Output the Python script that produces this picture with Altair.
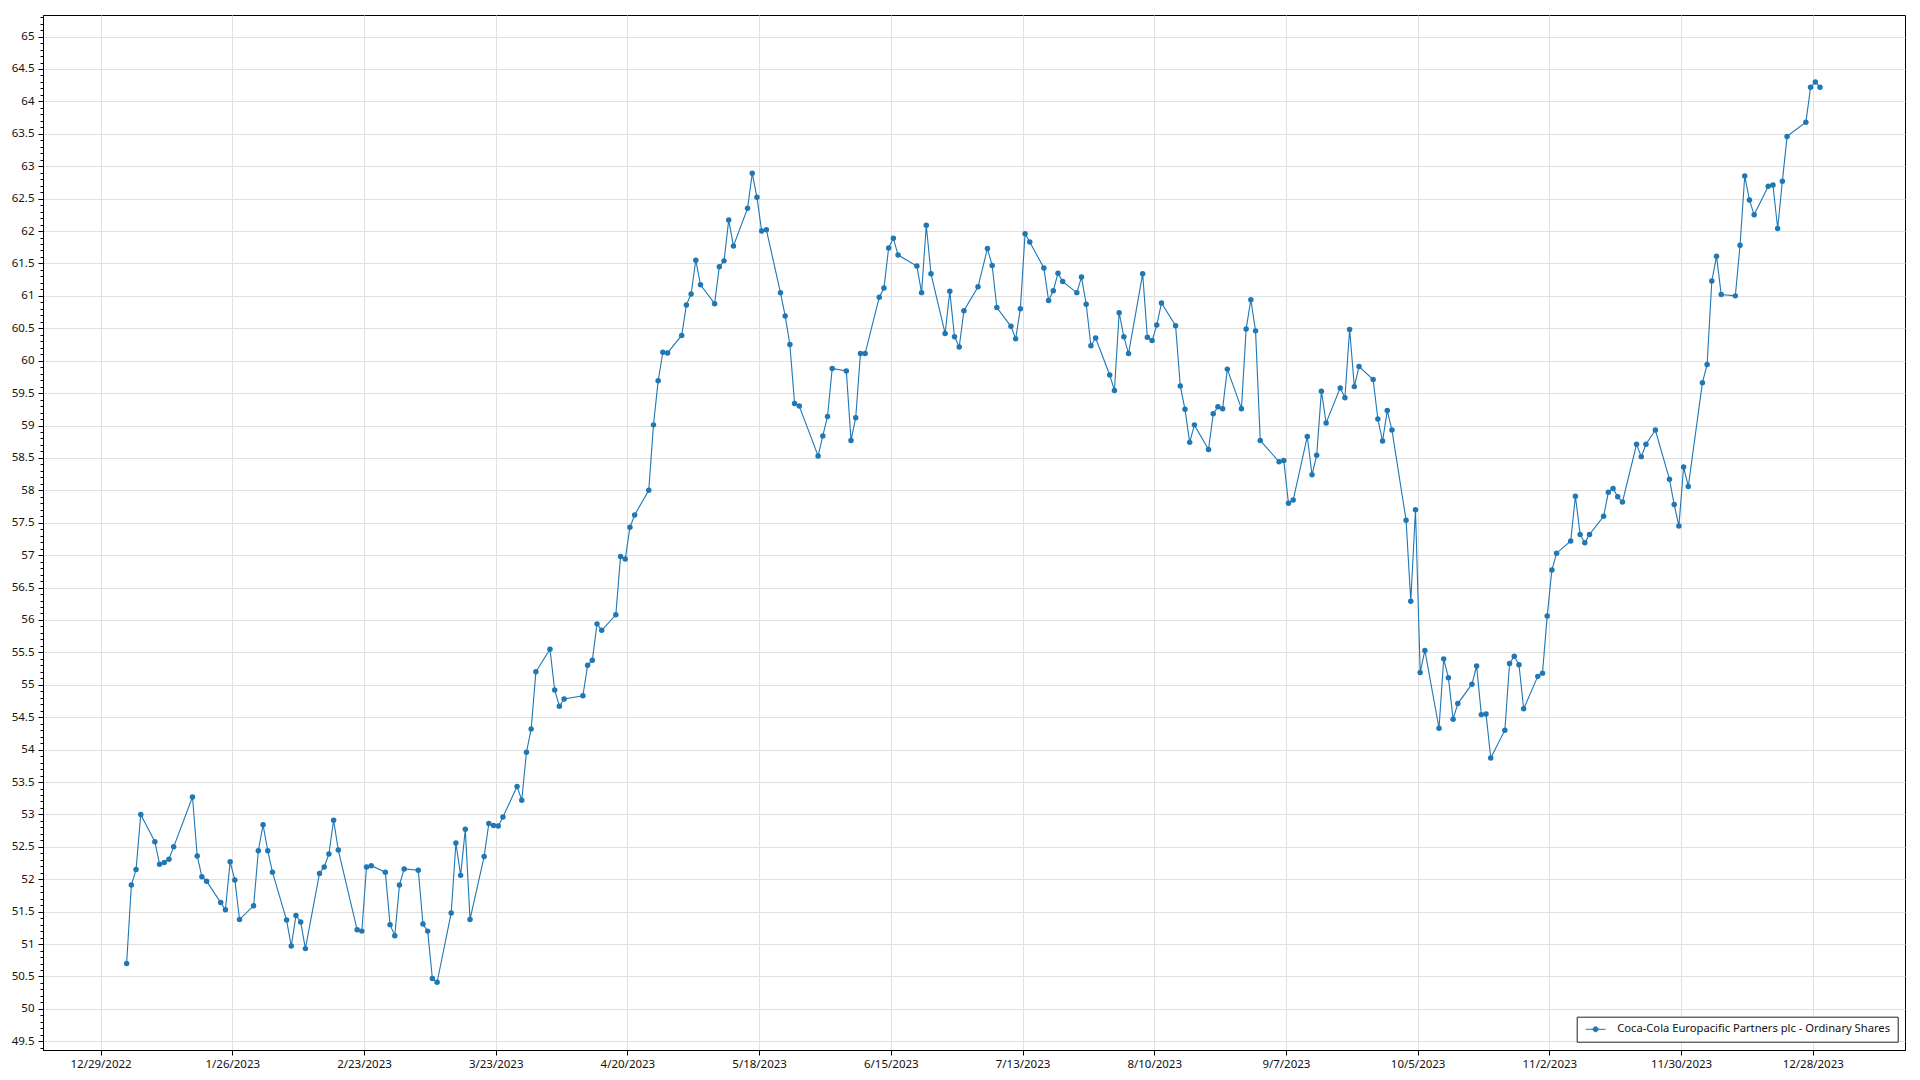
import altair as alt
import pandas as pd

SERIES = "Coca-Cola Europacific Partners plc - Ordinary Shares"
LINE_COLOR = "#1f77b4"

dates = [
    "2023-01-03", "2023-01-04", "2023-01-05", "2023-01-06", "2023-01-09", "2023-01-10", "2023-01-11",
    "2023-01-12", "2023-01-13", "2023-01-17", "2023-01-18", "2023-01-19", "2023-01-20", "2023-01-23",
    "2023-01-24", "2023-01-25", "2023-01-26", "2023-01-27", "2023-01-30", "2023-01-31",
    "2023-02-01", "2023-02-02", "2023-02-03", "2023-02-06", "2023-02-07", "2023-02-08", "2023-02-09",
    "2023-02-10", "2023-02-13", "2023-02-14", "2023-02-15", "2023-02-16", "2023-02-17", "2023-02-21",
    "2023-02-22", "2023-02-23", "2023-02-24", "2023-02-27", "2023-02-28",
    "2023-03-01", "2023-03-02", "2023-03-03", "2023-03-06", "2023-03-07", "2023-03-08", "2023-03-09",
    "2023-03-10", "2023-03-13", "2023-03-14", "2023-03-15", "2023-03-16", "2023-03-17", "2023-03-20",
    "2023-03-21", "2023-03-22", "2023-03-23", "2023-03-24", "2023-03-27", "2023-03-28", "2023-03-29",
    "2023-03-30", "2023-03-31",
    "2023-04-03", "2023-04-04", "2023-04-05", "2023-04-06", "2023-04-10", "2023-04-11", "2023-04-12",
    "2023-04-13", "2023-04-14", "2023-04-17", "2023-04-18", "2023-04-19", "2023-04-20", "2023-04-21",
    "2023-04-24", "2023-04-25", "2023-04-26", "2023-04-27", "2023-04-28",
    "2023-05-01", "2023-05-02", "2023-05-03", "2023-05-04", "2023-05-05", "2023-05-08", "2023-05-09",
    "2023-05-10", "2023-05-11", "2023-05-12", "2023-05-15", "2023-05-16", "2023-05-17", "2023-05-18",
    "2023-05-19", "2023-05-22", "2023-05-23", "2023-05-24", "2023-05-25", "2023-05-26", "2023-05-30",
    "2023-05-31",
    "2023-06-01", "2023-06-02", "2023-06-05", "2023-06-06", "2023-06-07", "2023-06-08", "2023-06-09",
    "2023-06-12", "2023-06-13", "2023-06-14", "2023-06-15", "2023-06-16", "2023-06-20", "2023-06-21",
    "2023-06-22", "2023-06-23", "2023-06-26", "2023-06-27", "2023-06-28", "2023-06-29", "2023-06-30",
    "2023-07-03", "2023-07-05", "2023-07-06", "2023-07-07", "2023-07-10", "2023-07-11", "2023-07-12",
    "2023-07-13", "2023-07-14", "2023-07-17", "2023-07-18", "2023-07-19", "2023-07-20", "2023-07-21",
    "2023-07-24", "2023-07-25", "2023-07-26", "2023-07-27", "2023-07-28", "2023-07-31",
    "2023-08-01", "2023-08-02", "2023-08-03", "2023-08-04", "2023-08-07", "2023-08-08", "2023-08-09",
    "2023-08-10", "2023-08-11", "2023-08-14", "2023-08-15", "2023-08-16", "2023-08-17", "2023-08-18",
    "2023-08-21", "2023-08-22", "2023-08-23", "2023-08-24", "2023-08-25", "2023-08-28", "2023-08-29",
    "2023-08-30", "2023-08-31",
    "2023-09-01", "2023-09-05", "2023-09-06", "2023-09-07", "2023-09-08", "2023-09-11", "2023-09-12",
    "2023-09-13", "2023-09-14", "2023-09-15", "2023-09-18", "2023-09-19", "2023-09-20", "2023-09-21",
    "2023-09-22", "2023-09-25", "2023-09-26", "2023-09-27", "2023-09-28", "2023-09-29",
    "2023-10-02", "2023-10-03", "2023-10-04", "2023-10-05", "2023-10-06", "2023-10-09", "2023-10-10",
    "2023-10-11", "2023-10-12", "2023-10-13", "2023-10-16", "2023-10-17", "2023-10-18", "2023-10-19",
    "2023-10-20", "2023-10-23", "2023-10-24", "2023-10-25", "2023-10-26", "2023-10-27", "2023-10-30",
    "2023-10-31",
    "2023-11-01", "2023-11-02", "2023-11-03", "2023-11-06", "2023-11-07", "2023-11-08", "2023-11-09",
    "2023-11-10", "2023-11-13", "2023-11-14", "2023-11-15", "2023-11-16", "2023-11-17", "2023-11-20",
    "2023-11-21", "2023-11-22", "2023-11-24", "2023-11-27", "2023-11-28", "2023-11-29", "2023-11-30",
    "2023-12-01", "2023-12-04", "2023-12-05", "2023-12-06", "2023-12-07", "2023-12-08", "2023-12-11",
    "2023-12-12", "2023-12-13", "2023-12-14", "2023-12-15", "2023-12-18", "2023-12-19", "2023-12-20",
    "2023-12-21", "2023-12-22", "2023-12-26", "2023-12-27", "2023-12-28", "2023-12-29",
]

closes = [
    50.70, 51.91, 52.15, 53.00, 52.58, 52.23, 52.26,
    52.31, 52.50, 53.27, 52.36, 52.04, 51.97, 51.64,
    51.53, 52.27, 51.99, 51.38, 51.59, 52.44,
    52.84, 52.44, 52.11, 51.37, 50.97, 51.44, 51.34,
    50.93, 52.09, 52.19, 52.39, 52.91, 52.45, 51.22,
    51.20, 52.19, 52.21, 52.11, 51.30,
    51.13, 51.91, 52.16, 52.14, 51.31, 51.20, 50.47,
    50.41, 51.48, 52.56, 52.06, 52.77, 51.38, 52.35,
    52.86, 52.83, 52.82, 52.96, 53.43, 53.22, 53.96,
    54.32, 55.20,
    55.55, 54.92, 54.67, 54.78, 54.83, 55.30, 55.38,
    55.94, 55.84, 56.08, 56.98, 56.94, 57.43, 57.62,
    58.00, 59.01, 59.69, 60.13, 60.12,
    60.39, 60.86, 61.03, 61.55, 61.17, 60.88, 61.45,
    61.54, 62.17, 61.77, 62.35, 62.89, 62.52, 62.00,
    62.02, 61.05, 60.69, 60.25, 59.34, 59.30, 58.53,
    58.84,
    59.14, 59.88, 59.84, 58.77, 59.12, 60.11, 60.11,
    60.98, 61.12, 61.74, 61.89, 61.63, 61.46, 61.05,
    62.09, 61.34, 60.42, 61.07, 60.37, 60.21, 60.77,
    61.14, 61.73, 61.47, 60.82, 60.53, 60.34, 60.80,
    61.96, 61.83, 61.43, 60.93, 61.08, 61.35, 61.22,
    61.05, 61.29, 60.87, 60.23, 60.35, 59.78,
    59.54, 60.74, 60.37, 60.11, 61.34, 60.36, 60.31,
    60.55, 60.89, 60.54, 59.61, 59.25, 58.74, 59.01,
    58.63, 59.18, 59.29, 59.26, 59.87, 59.26, 60.49,
    60.94, 60.46,
    58.77, 58.44, 58.46, 57.80, 57.85, 58.83, 58.24,
    58.54, 59.53, 59.04, 59.58, 59.43, 60.48, 59.60,
    59.91, 59.71, 59.10, 58.76, 59.23, 58.93,
    57.54, 56.29, 57.70, 55.19, 55.53, 54.33, 55.40,
    55.11, 54.47, 54.71, 55.01, 55.29, 54.54, 54.55,
    53.87, 54.30, 55.33, 55.44, 55.31, 54.63, 55.13,
    55.18,
    56.06, 56.77, 57.03, 57.22, 57.91, 57.32, 57.19,
    57.32, 57.60, 57.97, 58.03, 57.90, 57.82, 58.71,
    58.52, 58.71, 58.93, 58.17, 57.78, 57.45, 58.36,
    58.06, 59.66, 59.94, 61.23, 61.61, 61.02, 61.00,
    61.78, 62.85, 62.48, 62.25, 62.69, 62.71, 62.04,
    62.77, 63.46, 63.68, 64.22, 64.30, 64.22,
]

x_tick_dates = [
    (2022, 12, 29), (2023, 1, 26), (2023, 2, 23), (2023, 3, 23), (2023, 4, 20),
    (2023, 5, 18), (2023, 6, 15), (2023, 7, 13), (2023, 8, 10), (2023, 9, 7),
    (2023, 10, 5), (2023, 11, 2), (2023, 11, 30), (2023, 12, 28),
]

y_min, y_max = 49.366, 65.333
y_ticks = [round(49.4 + 0.1 * i, 1) for i in range(160)]

df = pd.DataFrame({
    "date": pd.to_datetime(dates) + pd.Timedelta(hours=13),
    "close": closes,
    "series": SERIES,
})

FONT = "Segoe UI, Noto Sans, sans-serif"
MAJOR_TEST = "abs(datum.value * 2 - round(datum.value * 2)) < 0.001"

x_enc = alt.X(
    "date:T",
    scale=alt.Scale(domain=[
        alt.DateTime(year=2022, month=12, date=16, hours=18, minutes=15),
        alt.DateTime(year=2024, month=1, date=16, hours=14, minutes=40),
    ]),
    axis=alt.Axis(
        values=[alt.DateTime(year=y, month=m, date=d) for (y, m, d) in x_tick_dates],
        format="%-m/%-d/%Y",
        title=None,
        grid=True,
        tickSize=5,
        labelPadding=3,
        labelOverlap=False,
    ),
)

y_enc = alt.Y(
    "close:Q",
    scale=alt.Scale(domain=[y_min, y_max], zero=False, nice=False),
    axis=alt.Axis(
        values=y_ticks,
        format=".1~f",
        title=None,
        grid=True,
        labelExpr=f"({MAJOR_TEST}) ? datum.label : ''",
        gridOpacity={"condition": {"test": MAJOR_TEST, "value": 1}, "value": 0},
        tickSize={"condition": {"test": MAJOR_TEST, "value": 5}, "value": 3},
        labelPadding=4,
        labelOverlap=False,
    ),
)

legend_path = "M-2,0H2M0.5,0A0.5,0.5,0,1,1,-0.5,0A0.5,0.5,0,1,1,0.5,0"

line = alt.Chart(df).mark_line(color=LINE_COLOR, strokeWidth=1.1).encode(x=x_enc, y=y_enc)
points = alt.Chart(df).mark_circle(size=30, opacity=1).encode(
    x=x_enc,
    y=y_enc,
    color=alt.Color(
        "series:N",
        scale=alt.Scale(range=[LINE_COLOR]),
        legend=alt.Legend(
            title=None,
            orient="none",
            legendX=1533.7,
            legendY=1001.7,
            symbolType=legend_path,
            symbolSize=100,
            symbolStrokeColor=LINE_COLOR,
            symbolFillColor=LINE_COLOR,
            symbolStrokeWidth=1,
            symbolOffset=6.3,
            labelOffset=16,
            padding=7,
            labelFontSize=11.2,
            labelFont=FONT,
            labelColor="#111111",
            labelLimit=600,
        ),
    ),
)

chart = (
    alt.layer(line, points)
    .properties(
        width=1862,
        height=1035,
        autosize=alt.AutoSizeParams(type="none"),
        padding={"left": 35, "top": 7, "right": 7, "bottom": 30},
    )
    .configure_view(stroke="black", strokeWidth=1)
    .configure_axis(
        labelFont=FONT,
        labelFontSize=11.5,
        labelColor="#111111",
        domainColor="black",
        tickColor="black",
        gridColor="#e0e0e0",
        gridWidth=1,
    )
    .configure_legend(
        strokeColor="#222222",
        strokeWidth=1,
        fillColor="white",
        cornerRadius=0,
    )
)

chart.save("out.html", embed_options={"renderer": "svg", "actions": False})
